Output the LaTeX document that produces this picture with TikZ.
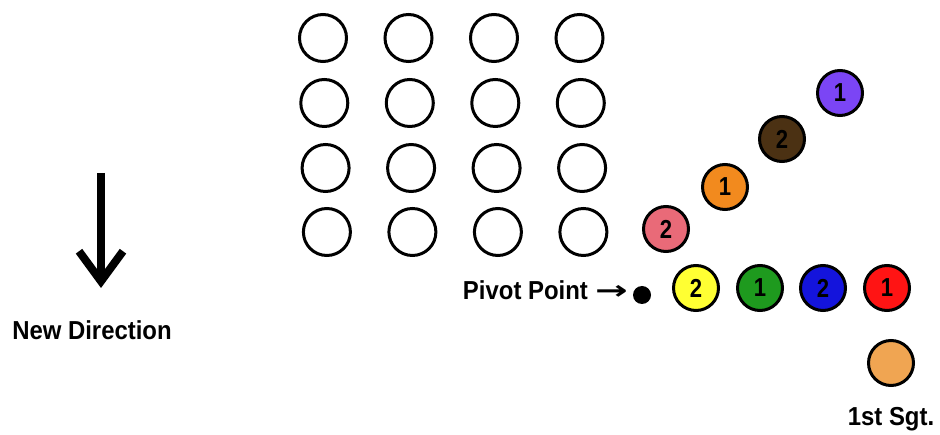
\documentclass[tikz,border=0pt]{standalone}
\usepackage{fontspec}
\setmainfont{Liberation Sans}
\newfontfamily\arrowfont{DejaVu Sans}
\usetikzlibrary{positioning}
\usetikzlibrary{arrows.meta}
\definecolor{pinkfill}{HTML}{E96A78}
\definecolor{orangefill}{HTML}{F28A1E}
\definecolor{brownfill}{HTML}{4B3113}
\definecolor{purplefill}{HTML}{7B45F5}
\definecolor{yellowfill}{HTML}{FFFF33}
\definecolor{greenfill}{HTML}{1E9A1E}
\definecolor{bluefill}{HTML}{1414DC}
\definecolor{redfill}{HTML}{FF1414}
\definecolor{sgtfill}{HTML}{F0A552}
\newcommand{\narrow}[2]{\scalebox{#1}[1]{#2}}

\begin{document}
\begin{tikzpicture}[x=1pt, y=-1pt,
		soldier/.style = {
			circle, draw=black, line width=3pt, minimum size=47pt, inner sep=0pt
		},
		member/.style = {
			soldier, minimum size=45pt, fill=#1,
			font=\bfseries\fontsize{26}{26}\selectfont
		},
		caption/.style = {
			font=\bfseries\fontsize{26}{26}\selectfont, inner sep=0pt
		}]
		\useasboundingbox (0,0) rectangle (940,435);
		
		% old formation
		\foreach \r [count=\j] in {38,103,168,232}
		\foreach \c [count=\i] in {323,408.5,494,579.5}
		\node at ({\c+1.3*(\j-1)},\r) (r\j c\i) [soldier] {};
		
		% wheeling line
		\node at (666,229) (pink) [member=pinkfill] {\narrow{0.85}{2}};
		\node at (725,187) (orange) [member=orangefill] {\narrow{0.85}{1}};
		\node at (782,139) (brown) [member=brownfill] {\narrow{0.85}{2}};
		\node at (840,93) (purple) [member=purplefill] {\narrow{0.85}{1}};
		
		\node at (696,288) (yellow) [member=yellowfill] {\narrow{0.85}{2}};
		\node at (760,288) (green) [member=greenfill] {\narrow{0.85}{1}};
		\node at (823,288) (blue) [member=bluefill] {\narrow{0.85}{2}};
		\node at (887,288) (red) [member=redfill] {\narrow{0.85}{1}};
		
		\node at (891,363) (sgt) [member=sgtfill] {};
		\node [caption, below=20pt of sgt] (sgtlabel) {\narrow{0.92}{1st Sgt.}};
		
		% pivot
		\node at (642,295) (pivot) [circle, fill=black, minimum size=18pt, inner sep=0pt] {};
		\node at (628,300) (pivotlabel) [caption, anchor=base east]
			{\narrow{0.92}{Pivot Point} \narrow{1.5}{\arrowfont\bfseries\fontsize{26}{26}\selectfont →}};
		
		% direction
		\coordinate (dirtop) at (101,173);
		\coordinate (dirtip) at (101,288);
		\draw [line width=8pt, -{Straight Barb[length=30pt, width=44pt]}] (dirtop) -- (dirtip);
		\node at (92,340) (dirlabel) [caption, anchor=base] {\narrow{0.92}{New Direction}};
	\end{tikzpicture}
\end{document}
